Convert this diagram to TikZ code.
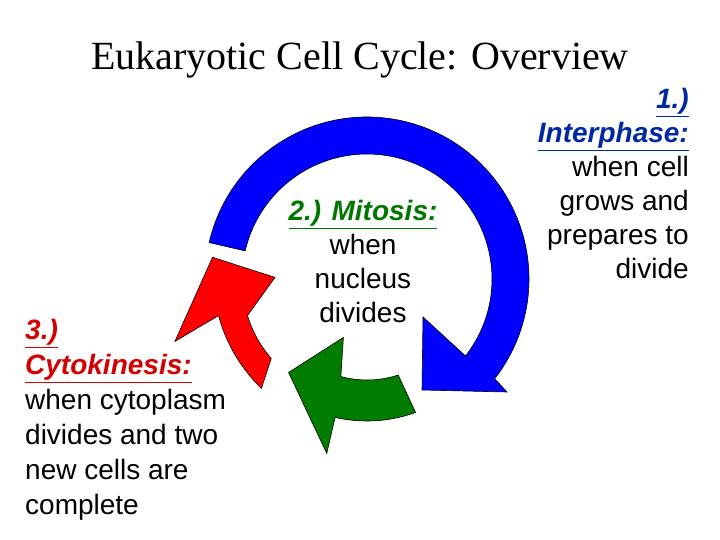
\documentclass[tikz,border=0pt]{standalone}
\usepackage{fontspec}
\setmainfont{Liberation Sans}
\newfontfamily\titlefont{Liberation Serif}
\definecolor{cycblue}{RGB}{0,0,255}
\definecolor{cycred}{RGB}{255,0,0}
\definecolor{cycgreen}{RGB}{0,125,0}
\definecolor{labblue}{RGB}{0,40,160}
\definecolor{labred}{RGB}{210,0,0}
\definecolor{labgreen}{RGB}{0,120,0}

\begin{document}
\begin{tikzpicture}
[x=1pt, y=1pt,
 phase/.style={draw=black, line width=0.6pt},
 label/.style={inner sep=0pt, font=\fontsize{28}{34}\selectfont}]

\useasboundingbox (0,0) rectangle (720,-540);

\node[inner sep=0pt, font=\titlefont\fontsize{40}{44}\selectfont] (title) at (360,-60) {Eukaryotic Cell Cycle: Overview};

\begin{scope}[shift={(367,-279)}]
% interphase
\fill[cycblue, phase] (167:162) arc[start angle=167, end angle=-38, radius=162]
  -- (140,-113) -- (55,-111) -- (56,-38) -- (-38:125)
  arc[start angle=-38, end angle=167, radius=125] -- cycle;
% mitosis
\fill[cycgreen, phase] (-70:142) arc[start angle=-70, end angle=-103, radius=142]
  -- (-103:179) -- (-130:122) -- (-112:63) -- (-105:101)
  arc[start angle=-105, end angle=-72, radius=101] -- cycle;
% cytokinesis
\fill[cycred, phase] (226:152) arc[start angle=226, end angle=195, radius=158]
  -- (198:202) -- (172:156) -- (179:92) -- (197:125)
  arc[start angle=197, end angle=221, radius=118] -- cycle;
\end{scope}

\node[label, anchor=north, align=center] (mitosis) at (363,-200)
  {\textcolor{labgreen}{\underline{\textbf{\textit{2.) Mitosis:}}}}\\when\\nucleus\\divides};
\node[label, anchor=north east, align=right] (interphase) at (689,-88)
  {\textcolor{labblue}{\underline{\textbf{\textit{1.)}}}}\\\textcolor{labblue}{\underline{\textbf{\textit{Interphase:}}}}\\when cell\\grows and\\prepares to\\divide};
\node[label, anchor=north west, align=left, font=\fontsize{28}{35}\selectfont] (cytokinesis) at (25,-319)
  {\textcolor{labred}{\underline{\textbf{\textit{3.)}}}}\\\textcolor{labred}{\underline{\textbf{\textit{Cytokinesis:}}}}\\when cytoplasm\\divides and two\\new cells are\\complete};
\end{tikzpicture}
\end{document}
